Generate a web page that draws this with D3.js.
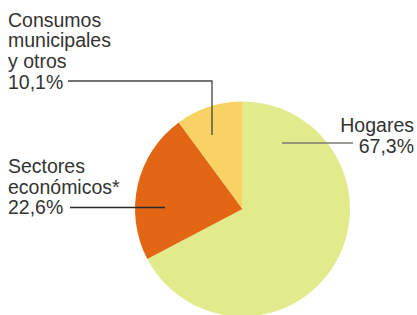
<!DOCTYPE html>
<html>
<head>
<meta charset="utf-8">
<script src="https://cdn.jsdelivr.net/npm/d3@7"></script>
<style>
  body { margin: 0; background: #fff; }
  svg { display: block; }
</style>
</head>
<body>
<svg id="chart" width="417" height="315"></svg>
<script>
// data
const labels = [["Hogares"], ["Sectores", "económicos*"], ["Consumos", "municipales", "y otros"]];
const values = [67.3, 22.6, 10.1];
const colors = ["#e2eb8c", "#e36614", "#f8d262"];

const width = 417;
const height = 315;
const cx = 242.5, cy = 209, radius = 107.5;
const fontSize = 19.5;
const lineH = 20.7;

const svg = d3.select("#chart");

const pie = d3.pie().sort(null).value(d => d)(values);
const arc = d3.arc().innerRadius(0).outerRadius(radius);

const g = svg.append("g").attr("transform", `translate(${cx},${cy})`);
g.selectAll("path")
  .data(pie)
  .enter()
  .append("path")
  .attr("d", arc)
  .attr("fill", (d, i) => colors[i]);

const fmt = v => d3.format(".1f")(v).replace(".", ",") + "%";

// label layout: x, baseline of first line, anchor
const labelPos = [
  { x: 414, y: 132, anchor: "end" },
  { x: 8, y: 173, anchor: "start" },
  { x: 8, y: 26.7, anchor: "start" }
];

labels.forEach((lines, i) => {
  const p = labelPos[i];
  const t = svg.append("text")
    .attr("font-family", "'Liberation Sans', Arial, sans-serif")
    .attr("font-size", fontSize)
    .attr("fill", "#333")
    .attr("text-anchor", p.anchor);
  lines.concat([fmt(values[i])]).forEach((s, j) => {
    t.append("tspan").attr("x", p.x).attr("y", p.y + j * lineH).text(s);
  });
});

// leader lines
const leaders = [
  { pts: [[282, 143], [353, 143]], color: "#7a7a72" },
  { pts: [[70, 207.5], [165, 207.5]], color: "#2a2a2a" },
  { pts: [[68, 81], [212, 81], [212, 135]], color: "#444" }
];
leaders.forEach(l => {
  svg.append("path")
    .attr("d", d3.line()(l.pts))
    .attr("fill", "none")
    .attr("stroke", l.color)
    .attr("stroke-width", 1.3);
});
</script>
</body>
</html>
